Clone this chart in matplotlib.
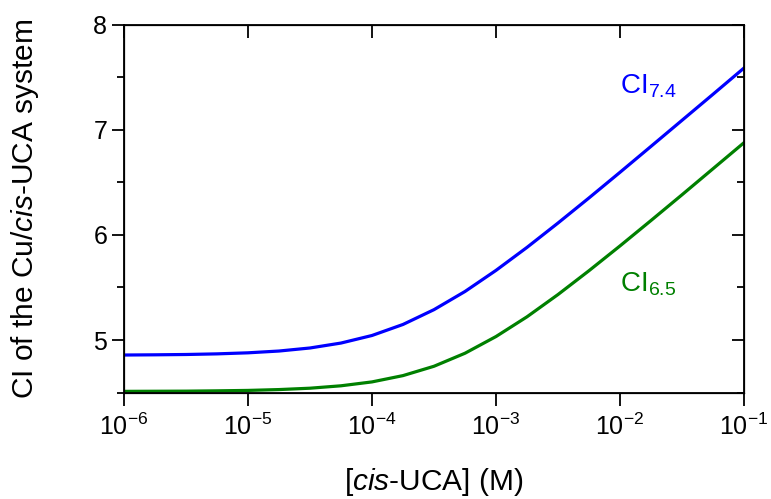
import numpy as np
import matplotlib
matplotlib.use("Agg")
import matplotlib.pyplot as plt
from matplotlib.ticker import MultipleLocator, NullLocator, LogLocator

plt.rcParams['font.family'] = ['Liberation Sans', 'DejaVu Sans']
plt.rcParams['mathtext.fontset'] = 'custom'
plt.rcParams['mathtext.rm'] = 'Liberation Sans'
plt.rcParams['mathtext.it'] = 'Liberation Sans:italic'
plt.rcParams['mathtext.default'] = 'regular'

# log10 of [cis-UCA] (M)
log_conc = [-6.00, -5.75, -5.50, -5.25, -5.00, -4.75, -4.50, -4.25, -4.00, -3.75, -3.50,
            -3.25, -3.00, -2.75, -2.50, -2.25, -2.00, -1.75, -1.50, -1.25, -1.00]
ci_74 = [4.857, 4.859, 4.862, 4.868, 4.878, 4.895, 4.924, 4.971, 5.043, 5.148, 5.289,
         5.462, 5.663, 5.882, 6.114, 6.353, 6.597, 6.844, 7.092, 7.340, 7.590]
ci_65 = [4.511, 4.512, 4.513, 4.516, 4.520, 4.528, 4.541, 4.564, 4.601, 4.661, 4.750,
         4.874, 5.033, 5.221, 5.433, 5.660, 5.896, 6.138, 6.383, 6.631, 6.879]

conc = 10 ** np.array(log_conc)

fig = plt.figure(figsize=(7.71, 4.99), dpi=100)
ax = fig.add_axes([0.1608, 0.2134, 0.8042, 0.7366])

ax.plot(conc, ci_74, color='#0000ff', lw=2.3, solid_joinstyle='round')
ax.plot(conc, ci_65, color='#008000', lw=2.3, solid_joinstyle='round')

ax.set_xscale('log')
ax.set_xlim(1e-6, 1e-1)
ax.set_ylim(4.5, 8)
ax.xaxis.set_major_locator(LogLocator(base=10, numticks=10))
ax.xaxis.set_minor_locator(NullLocator())
ax.yaxis.set_major_locator(MultipleLocator(1))
ax.yaxis.set_minor_locator(MultipleLocator(0.5))

for s in ax.spines.values():
    s.set_linewidth(1.3)
ax.tick_params(which='both', direction='out', top=False, right=False,
               labelsize=18, width=1.3)
ax.tick_params(which='major', length=9)
ax.tick_params(axis='y', which='major', pad=3)
ax.tick_params(axis='x', which='major', pad=6)
ax.tick_params(which='minor', length=5)

# mirrored ticks pointing inward on top and right
axr = ax.twinx()
axr.set_ylim(ax.get_ylim())
axr.yaxis.set_major_locator(MultipleLocator(1))
axr.yaxis.set_minor_locator(MultipleLocator(0.5))
axr.tick_params(which='both', direction='in', labelright=False, width=1.3)
axr.tick_params(which='major', length=9)
axr.tick_params(which='minor', length=5)

axt = ax.twiny()
axt.set_xscale('log')
axt.set_xlim(ax.get_xlim())
axt.xaxis.set_major_locator(LogLocator(base=10, numticks=10))
axt.xaxis.set_minor_locator(NullLocator())
axt.tick_params(which='both', direction='in', labeltop=False, width=1.3, length=9)

ax.set_xlabel(r'[$\it{cis}$-UCA] (M)', fontsize=21.5, labelpad=19)
ax.set_ylabel(r'CI of the Cu/$\it{cis}$-UCA system', fontsize=21.5, labelpad=38)

ax.text(1.0e-2, 7.35, r'CI$_{7.4}$', color='#0000ff', fontsize=20, va='baseline')
ax.text(1.0e-2, 5.46, r'CI$_{6.5}$', color='#008000', fontsize=20, va='baseline')

fig.savefig('out.png', dpi=100)
